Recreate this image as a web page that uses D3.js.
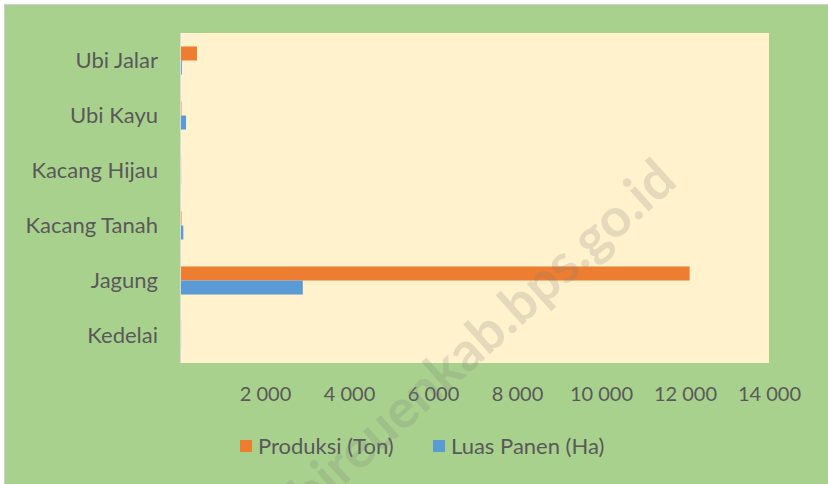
<!DOCTYPE html>
<html>
<head>
<meta charset="utf-8">
<script src="https://cdn.jsdelivr.net/npm/d3@7"></script>
<style>
  body { margin: 0; background: #fff; }
  svg { display: block; }
  text { font-family: Lato, "Open Sans", sans-serif; fill: #595959; }
</style>
</head>
<body>
<svg id="chart" width="828" height="484"></svg>
<script>
// categories, top to bottom
var categories = ["Ubi Jalar", "Ubi Kayu", "Kacang Hijau", "Kacang Tanah", "Jagung", "Kedelai"];
var seriesNames = ["Produksi (Ton)", "Luas Panen (Ha)"];
// values
var produksi = [380, 10, 2, 12, 12110, 2];
var luasPanen = [20, 120, 3, 55, 2900, 2];
var tickValues = [2000, 4000, 6000, 8000, 10000, 12000, 14000];
var colors = ["#ED7D31", "#5B9BD5"];

var svg = d3.select("#chart");

// chart area background + border
svg.append("rect")
  .attr("x", 4.5).attr("y", 4.5)
  .attr("width", 830).attr("height", 490)
  .attr("fill", "#A9D18E")
  .attr("stroke", "#d0d0d0");

var plot = {left: 181, top: 33, right: 769, bottom: 363};

var x = d3.scaleLinear().domain([0, 14000]).range([plot.left, plot.right]);
var y = d3.scaleBand().domain(categories)
  .range([plot.top, plot.bottom])
  .paddingInner(0.49).paddingOuter(0.245);
var ySub = d3.scaleBand().domain(seriesNames).range([0, y.bandwidth()]);

// plot area
svg.append("rect")
  .attr("x", plot.left).attr("y", plot.top)
  .attr("width", plot.right - plot.left)
  .attr("height", plot.bottom - plot.top)
  .attr("fill", "#FFF2CC");

// bars
var rows = categories.map(function(c, i) {
  return {cat: c, vals: [produksi[i], luasPanen[i]]};
});
var groups = svg.append("g").selectAll("g")
  .data(rows).enter().append("g")
  .attr("transform", function(d) { return "translate(0," + y(d.cat) + ")"; });
groups.selectAll("rect")
  .data(function(d) { return d.vals.map(function(v, j) { return {v: v, s: seriesNames[j], j: j}; }); })
  .enter().append("rect")
  .attr("x", x(0))
  .attr("y", function(d) { return ySub(d.s); })
  .attr("width", function(d) { return x(d.v) - x(0); })
  .attr("height", ySub.bandwidth())
  .attr("fill", function(d) { return colors[d.j]; });

// y axis line
svg.append("line")
  .attr("x1", plot.left - 0.5).attr("x2", plot.left - 0.5)
  .attr("y1", plot.top).attr("y2", plot.bottom)
  .attr("stroke", "#d9d9d9");

// category labels
var yAxis = d3.axisLeft(y).tickSize(0).tickPadding(23);
var gy = svg.append("g")
  .attr("transform", "translate(" + plot.left + ",0)")
  .call(yAxis);
gy.select(".domain").remove();
gy.selectAll("text")
  .style("font-size", "22px")
  .attr("fill", "#595959");

// value axis labels (no line)
var xAxis = d3.axisBottom(x).tickValues(tickValues).tickSize(0).tickPadding(24)
  .tickFormat(function(d) { return d3.format(",")(d).replace(/,/g, " "); });
var gx = svg.append("g")
  .attr("transform", "translate(0," + plot.bottom + ")")
  .call(xAxis);
gx.select(".domain").remove();
gx.selectAll("text")
  .style("font-size", "20px")
  .attr("fill", "#595959");

// legend
var legendX = [240, 433];
var legend = svg.append("g").selectAll("g")
  .data(seriesNames).enter().append("g")
  .attr("transform", function(d, i) { return "translate(" + legendX[i] + ",440)"; });
legend.append("rect")
  .attr("width", 12).attr("height", 12)
  .attr("fill", function(d, i) { return colors[i]; });
legend.append("text")
  .attr("x", 18).attr("y", 6)
  .attr("dy", "0.35em")
  .style("font-size", "22px")
  .text(function(d) { return d; });

// watermark
svg.append("text")
  .attr("transform", "translate(482,336) rotate(-42)")
  .attr("text-anchor", "middle")
  .attr("dy", "0.35em")
  .style("font-size", "54px")
  .style("font-weight", "bold")
  .style("fill", "rgba(120,120,120,0.2)")
  .text("bireuenkab.bps.go.id");
</script>
</body>
</html>
